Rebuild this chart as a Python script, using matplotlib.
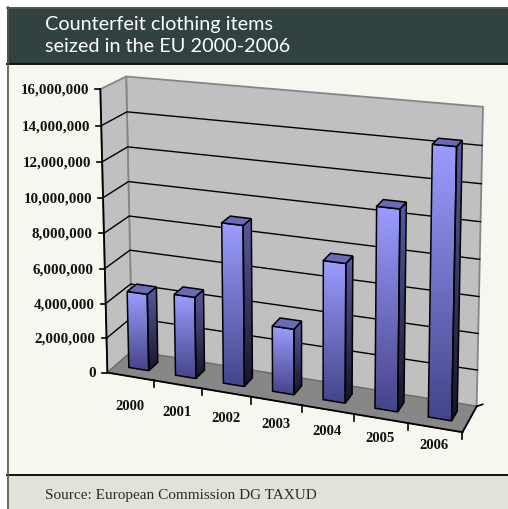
import numpy as np
import matplotlib
matplotlib.use("Agg")
import matplotlib.pyplot as plt
import matplotlib.colors as mcolors
from matplotlib.patches import Polygon, Rectangle

# ---- data -------------------------------------------------------------
years = ["2000", "2001", "2002", "2003", "2004", "2005", "2006"]
items_seized = [4.43e6, 4.65e6, 9.03e6, 3.67e6, 7.66e6, 10.9e6, 14.42e6]
value_ticks = [0, 2e6, 4e6, 6e6, 8e6, 10e6, 12e6, 14e6, 16e6]
value_max = 16e6

title_lines = ["Counterfeit clothing items", "seized in the EU 2000-2006"]
source_text = "Source: European Commission DG TAXUD"

# ---- canvas -----------------------------------------------------------
W, H = 508, 509
fig = plt.figure(figsize=(W / 100, H / 100), dpi=100)
ax = fig.add_axes([0, 0, 1, 1])
ax.set_xlim(0, W)
ax.set_ylim(H, 0)
ax.set_autoscale_on(False)
ax.axis("off")

# panel background, title band and source strip
ax.add_patch(Rectangle((7, 7), W - 7, H - 7, facecolor="#F7F6EF", edgecolor="none", zorder=0))
ax.add_patch(Rectangle((7, 7), W - 7, 57, facecolor="#324241", edgecolor="none", zorder=1))
ax.plot([7, W], [7.5, 7.5], color="#5a5a5a", lw=1.2, zorder=2)
ax.plot([7, W], [64, 64], color="#111111", lw=1.4, zorder=2)
ax.add_patch(Rectangle((7, 475), W - 7, H - 475, facecolor="#E3E2D8", edgecolor="none", zorder=1))
ax.plot([7, W], [475, 475], color="#111111", lw=1.4, zorder=2)
ax.plot([7.5, 7.5], [7, H], color="#555555", lw=1.2, zorder=2)

title_font = ["Lato", "DejaVu Sans"]
ax.text(45, 30, title_lines[0], color="white", fontsize=14.3, family=title_font,
        ha="left", va="baseline", zorder=3)
ax.text(45, 52, title_lines[1], color="white", fontsize=14.3, family=title_font,
        ha="left", va="baseline", zorder=3)
ax.text(45, 499, source_text, color="#2a2a2a", fontsize=11, family=["Liberation Serif"],
        ha="left", va="baseline", zorder=3)

# ---- perspective camera for the 3-D plot box ------------------------
# world coords: x in category units (0..n), y depth (0 front .. 1 back),
# z value fraction (0..1); calibrated on the corners of the plot box.
n_cat = len(years)
box_anchors = [
    ((0, 0, 0), (107.0, 372.0)),
    ((0, 0, 1), (100.5, 89.0)),
    ((0, 1, 1), (126.0, 76.5)),
    ((0, 1, 0), (132.0, 352.0)),
    ((7, 1, 1), (483.0, 107.0)),
    ((7, 1, 0), (477.0, 405.0)),
    ((7, 0, 0), (463.0, 433.0)),
    ((1, 0, 0), (155.0, 380.1)),
    ((2, 0, 0), (202.0, 388.2)),
    ((3, 0, 0), (252.0, 396.8)),
    ((4, 0, 0), (302.0, 405.4)),
    ((5, 0, 0), (353.0, 414.1)),
    ((6, 0, 0), (407.0, 423.4)),
]


def calibrate(anchors):
    world = np.array([a[0] for a in anchors], float)
    world[:, 0] /= n_cat
    img = np.array([a[1] for a in anchors], float)
    c = img.mean(axis=0)
    s = img.std()
    nimg = (img - c) / s
    rows = []
    for (X, Y, Z), (u, v) in zip(world, nimg):
        rows.append([X, Y, Z, 1, 0, 0, 0, 0, -u * X, -u * Y, -u * Z, -u])
        rows.append([0, 0, 0, 0, X, Y, Z, 1, -v * X, -v * Y, -v * Z, -v])
    P = np.linalg.svd(np.array(rows))[2][-1].reshape(3, 4)

    def project(x, y, z):
        h = P @ np.array([x / n_cat, y, z, 1.0])
        return c + s * h[:2] / h[2]

    return project


proj = calibrate(box_anchors)


def face(corners):
    return np.array([proj(*p) for p in corners])


wall_fill = "#C0C0C0"
wall_edge = "#858585"

# back wall, side wall and floor
back = face([(0, 1, 0), (n_cat, 1, 0), (n_cat, 1, 1), (0, 1, 1)])
side = face([(0, 0, 0), (0, 1, 0), (0, 1, 1), (0, 0, 1)])
floor = face([(0, 0, 0), (n_cat, 0, 0), (n_cat, 1, 0), (0, 1, 0)])
ax.add_patch(Polygon(back, closed=True, facecolor=wall_fill, edgecolor=wall_edge, lw=1.3, zorder=4))
ax.add_patch(Polygon(side, closed=True, facecolor=wall_fill, edgecolor=wall_edge, lw=1.3, zorder=4))
ax.add_patch(Polygon(floor, closed=True, facecolor="#878787", edgecolor="#6f6f6f", lw=1.0, zorder=5))

# gridlines on both walls
for v in value_ticks[1:-1]:
    z = v / value_max
    p = face([(0, 0, z), (0, 1, z), (n_cat, 1, z)])
    ax.plot(p[:, 0], p[:, 1], color="black", lw=1.0, zorder=6)

# value axis with ticks and labels
vax = face([(0, 0, 0), (0, 0, 1)])
ax.plot(vax[:, 0], vax[:, 1], color="black", lw=1.3, zorder=7)
for v in value_ticks:
    px, py = proj(0, 0, v / value_max)
    ax.plot([px - 5, px], [py, py], color="black", lw=1.2, zorder=7)
    ax.text(px - 11, py + 1, f"{int(v):,}", ha="right", va="center",
            fontsize=10.8, fontweight="bold", family=["Liberation Serif"],
            color="#111111", zorder=7)

# category axis along the front edge of the floor
cax = face([(0, 0, 0), (n_cat, 0, 0)])
ax.plot(cax[:, 0], cax[:, 1], color="black", lw=1.3, zorder=7)
for k in range(1, n_cat + 1):
    px, py = proj(k, 0, 0)
    ax.plot([px, px], [py, py + 7], color="black", lw=1.2, zorder=7)
for i, yr in enumerate(years):
    px, py = proj(i + 0.5, 0, 0)
    ax.text(px - 1, py + 30 - 2 * i, yr, ha="center", va="center",
            fontsize=10.5, fontweight="bold", family=["Liberation Serif"],
            color="#111111", zorder=7)

# right floor edge (depth axis)
dax = face([(n_cat, 0, 0), (n_cat, 1, 0)])
ax.plot(dax[:, 0], dax[:, 1], color="black", lw=1.3, zorder=7)
ax.plot([dax[1, 0], dax[1, 0] + 6], [dax[1, 1], dax[1, 1] - 2], color="black", lw=1.2, zorder=7)


# ---- bars -------------------------------------------------------------
def gradient_face(pts, c_top, c_bottom, z):
    clip = Polygon(pts, closed=True, facecolor="none", edgecolor="none", zorder=z)
    ax.add_patch(clip)
    t = np.linspace(0, 1, 128)[:, None]
    a = np.array(mcolors.to_rgb(c_top))
    b = np.array(mcolors.to_rgb(c_bottom))
    grad = (a * (1 - t) + b * t)[:, None, :]
    im = ax.imshow(grad, extent=(pts[:, 0].min(), pts[:, 0].max(), pts[:, 1].max(), pts[:, 1].min()),
                   origin="upper", aspect="auto", interpolation="bilinear", zorder=z)
    im.set_clip_path(clip)
    ax.add_patch(Polygon(pts, closed=True, facecolor="none", edgecolor="black", lw=1.1, zorder=z + 0.05))


bar_half = 0.215
depth0, depth1 = 0.33, 0.71
for i, val in enumerate(items_seized):
    x0, x1 = i + 0.5 - bar_half, i + 0.5 + bar_half
    h = val / value_max
    zo = 10 + i * 0.3
    front = face([(x0, depth0, h), (x1, depth0, h), (x1, depth0, 0), (x0, depth0, 0)])
    right = face([(x1, depth0, h), (x1, depth1, h), (x1, depth1, 0), (x1, depth0, 0)])
    top = face([(x0, depth0, h), (x1, depth0, h), (x1, depth1, h), (x0, depth1, h)])
    gradient_face(front, "#9C9CFF", "#44448A", zo)
    gradient_face(right, "#5A5A9E", "#15152C", zo)
    ax.add_patch(Polygon(top, closed=True, facecolor="#6A6AB6", edgecolor="black", lw=1.1, zorder=zo + 0.1))

ax.set_xlim(0, W)
ax.set_ylim(H, 0)
fig.savefig("out.png", dpi=100)
